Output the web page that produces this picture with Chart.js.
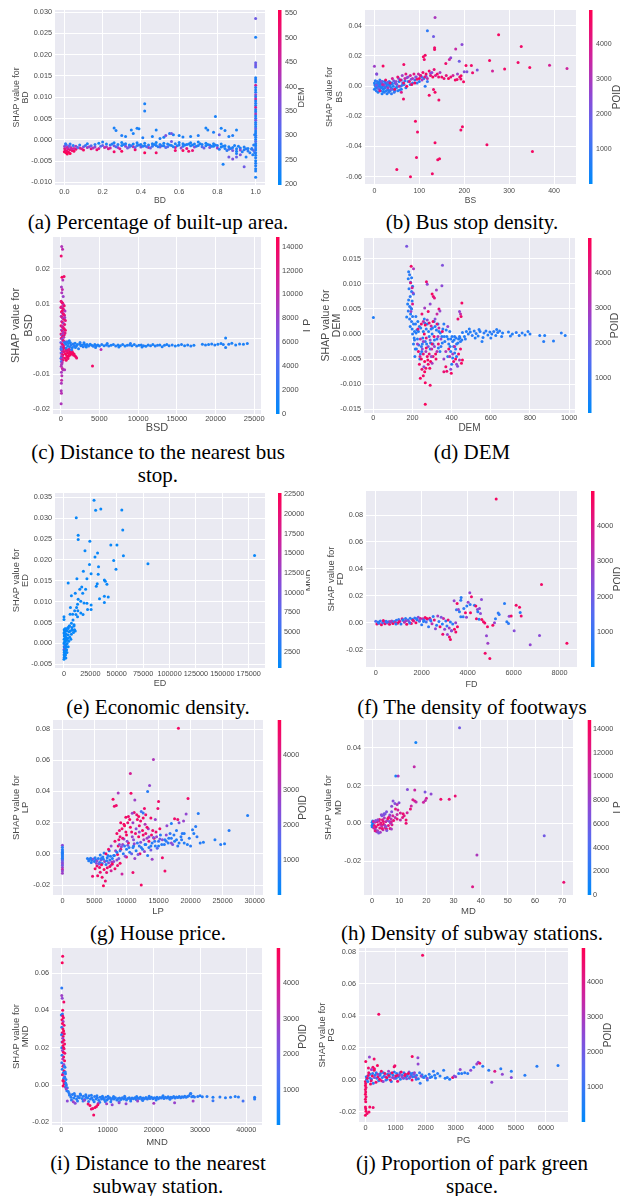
<!DOCTYPE html>
<html>
<head>
<meta charset="utf-8">
<script src="https://cdn.jsdelivr.net/npm/chart.js@4/dist/chart.umd.min.js"></script>
<style>
  body { margin: 0; width: 620px; height: 1196px; background: #fff; position: relative; overflow: hidden; }
  canvas { position: absolute; }
  .cap { position: absolute; font-family: "Liberation Serif", "Times New Roman", serif; font-size: 21px;
         line-height: 23px; color: #000; text-align: center; white-space: nowrap; }
</style>
</head>
<body>
<div class="cap" style="left:0;width:316px;top:211px">(a) Percentage of built-up area.</div>
<div class="cap" style="left:320px;width:304px;top:211px">(b) Bus stop density.</div>
<div class="cap" style="left:0;width:316px;top:441px">(c) Distance to the nearest bus<br>stop.</div>
<div class="cap" style="left:320px;width:304px;top:441px">(d) DEM</div>
<div class="cap" style="left:0;width:316px;top:696px">(e) Economic density.</div>
<div class="cap" style="left:320px;width:304px;top:696px">(f) The density of footways</div>
<div class="cap" style="left:0;width:316px;top:922px">(g) House price.</div>
<div class="cap" style="left:320px;width:304px;top:922px">(h) Density of subway stations.</div>
<div class="cap" style="left:0;width:316px;top:1152px">(i) Distance to the nearest<br>subway station.</div>
<div class="cap" style="left:320px;width:304px;top:1152px">(j) Proportion of park green<br>space.</div>
<script>
// ---------- SHAP dependence data: [feature value, SHAP value, colour feature value] ----------

// (a) BD, coloured by DEM
const bdPoints = [
  [0.000,-0.0028,545],[0.004,-0.0024,520],[0.008,-0.0030,550],[0.002,-0.0020,500],[0.012,-0.0026,530],[0.018,-0.0021,485],
  [0.022,-0.0029,545],[0.028,-0.0023,510],[0.001,-0.0015,380],[0.010,-0.0012,300],[0.020,-0.0016,360],[0.034,-0.0018,420],
  [0.040,-0.0025,520],[0.046,-0.0013,250],[0.050,-0.0027,540],[0.006,-0.0009,260],[0.030,-0.0010,240],[0.014,-0.0018,450],
  [0.026,-0.0014,330],[0.038,-0.0021,470],
  [0.06,-0.0015,400],[0.06,-0.0022,520],[0.08,-0.0012,240],[0.08,-0.0019,470],[0.10,-0.0016,350],[0.10,-0.0024,540],
  [0.12,-0.0009,230],[0.12,-0.0018,420],[0.14,-0.0014,300],[0.14,-0.0021,500],[0.16,-0.0011,250],[0.16,-0.0017,380],
  [0.18,-0.0008,220],[0.18,-0.0020,470],[0.20,-0.0013,330],[0.20,-0.0005,240],[0.22,-0.0016,410],[0.22,-0.0010,230],
  [0.24,-0.0012,260],[0.24,-0.0019,450],[0.26,-0.0014,360],[0.26,-0.0007,225],[0.28,-0.0011,240],[0.28,-0.0018,400],
  [0.30,-0.0013,230],[0.30,-0.0006,220],[0.32,-0.0015,380],[0.32,-0.0009,240],[0.34,-0.0012,230],[0.34,-0.0017,320],
  [0.36,-0.0010,220],[0.36,-0.0016,450],[0.38,-0.0013,250],[0.38,-0.0007,230],[0.40,-0.0011,230],[0.40,-0.0017,360],
  [0.42,-0.0014,240],[0.42,-0.0008,225],[0.44,-0.0012,235],[0.44,-0.0018,420],[0.46,-0.0009,230],[0.46,-0.0015,260],
  [0.48,-0.0013,240],[0.48,-0.0006,220],[0.50,-0.0011,230],[0.50,-0.0017,350],[0.52,-0.0014,240],[0.52,-0.0008,225],
  [0.54,-0.0010,230],[0.54,-0.0016,300],[0.56,-0.0013,235],[0.56,-0.0004,330],[0.58,-0.0009,230],[0.58,-0.0018,470],
  [0.60,-0.0012,240],[0.60,-0.0006,225],[0.62,-0.0015,250],[0.62,-0.0009,230],[0.64,-0.0011,230],[0.64,-0.0020,500],
  [0.66,-0.0014,240],[0.66,-0.0007,225],[0.68,-0.0010,230],[0.68,-0.0017,380],[0.70,-0.0013,240],[0.70,-0.0005,225],
  [0.72,-0.0011,230],[0.72,-0.0016,290],[0.74,-0.0014,235],[0.74,-0.0008,225],[0.76,-0.0012,240],[0.76,-0.0018,360],
  [0.78,-0.0015,230],[0.78,-0.0009,225],[0.80,-0.0013,240],[0.80,-0.0019,400],[0.82,-0.0017,230],[0.82,-0.0010,225],
  [0.84,-0.0020,240],[0.84,-0.0014,230],[0.86,-0.0022,300],[0.86,-0.0016,230],[0.88,-0.0018,235],[0.88,-0.0025,350],
  [0.90,-0.0021,240],[0.90,-0.0027,230],[0.92,-0.0019,230],[0.92,-0.0024,380],[0.94,-0.0023,240],[0.94,-0.0017,235],
  [0.96,-0.0020,230],[0.96,-0.0026,250],[0.98,-0.0022,240],
  [0.07,-0.0018,300],[0.11,-0.0013,260],[0.15,-0.0019,420],[0.19,-0.0015,300],[0.23,-0.0021,490],[0.27,-0.0016,280],
  [0.31,-0.0011,240],[0.35,-0.0014,260],[0.39,-0.0012,240],[0.43,-0.0016,300],[0.47,-0.0011,230],[0.51,-0.0014,250],
  [0.55,-0.0012,230],[0.59,-0.0014,240],[0.63,-0.0012,240],[0.67,-0.0012,230],[0.71,-0.0009,230],[0.75,-0.0011,230],
  [0.79,-0.0012,240],[0.83,-0.0015,230],[0.87,-0.0020,240],[0.91,-0.0015,230],[0.95,-0.0021,250],
  [0.09,-0.0021,480],[0.13,-0.0016,380],[0.17,-0.0023,520],[0.21,-0.0018,440],[0.25,-0.0010,240],[0.29,-0.0021,470],
  [0.33,-0.0019,350],[0.37,-0.0018,300],[0.41,-0.0015,240],[0.45,-0.0019,330],[0.49,-0.0016,250],[0.53,-0.0018,300],
  [0.57,-0.0016,240],[0.61,-0.0019,380],[0.65,-0.0010,230],[0.69,-0.0015,240],[0.73,-0.0019,330],[0.77,-0.0015,235],
  [0.81,-0.0022,240],[0.85,-0.0025,250],[0.89,-0.0013,230],[0.93,-0.0028,240],[0.97,-0.0030,245],[0.03,-0.0032,550],
  [0.05,-0.0020,460],[0.015,-0.0033,550],
  [0.26,0.0028,230],[0.27,0.0022,235],[0.30,0.0010,240],[0.32,0.0008,230],[0.35,0.0023,225],[0.36,0.0015,230],
  [0.38,0.0027,235],[0.39,0.0026,225],[0.42,0.0085,230],[0.42,0.0068,235],[0.41,0.0005,240],[0.46,0.0008,230],
  [0.48,0.0023,225],[0.50,0.0003,235],[0.52,0.0006,230],[0.55,0.0015,240],[0.57,0.0012,230],[0.60,0.0010,225],
  [0.62,0.0007,235],[0.66,0.0008,230],[0.70,0.0010,240],[0.74,0.0028,225],[0.75,0.0023,230],[0.78,0.0018,235],
  [0.79,0.0055,230],[0.82,0.0027,225],[0.84,0.0022,235],[0.86,0.0008,230],[0.88,0.0010,240],[0.90,0.0023,225],
  [0.56,0.0015,340],[0.53,0.0010,360],[0.81,0.0012,330],
  [0.26,-0.0028,530],[0.30,-0.0027,540],[0.37,-0.0023,520],[0.42,-0.0030,545],[0.48,-0.0030,530],[0.58,-0.0025,520],
  [0.62,-0.0025,540],[0.65,-0.0027,530],[0.67,-0.0025,510],[0.83,-0.0057,230],[0.86,-0.0040,340],[0.88,-0.0045,360],
  [0.90,-0.0040,330],[0.92,-0.0035,350],[0.94,-0.0063,340],[0.95,-0.0040,235],[0.90,-0.0032,240],
  [1.0,0.0285,340],[1.0,0.0241,230],[1.0,0.0181,330],[1.0,0.0176,350],[1.0,0.0171,320],[1.0,0.0146,230],
  [1.0,0.0141,240],[1.0,0.0136,235],[1.0,0.0128,470],[1.0,0.0123,250],[1.0,0.0117,230],[1.0,0.0112,240],
  [1.0,0.0106,380],[1.0,0.0101,230],[1.0,0.0096,460],[1.0,0.0091,230],[1.0,0.0086,245],[1.0,0.0081,230],
  [1.0,0.0076,480],[1.0,0.0071,235],[1.0,0.0066,240],[1.0,0.0061,420],[1.0,0.0056,230],[1.0,0.0051,250],
  [1.0,0.0046,360],[1.0,0.0041,230],[1.0,0.0036,240],[1.0,0.0031,230],[1.0,0.0026,330],[1.0,0.0021,235],
  [1.0,0.0016,230],[1.0,0.0011,250],[1.0,0.0006,240],[1.0,0.0001,230],[1.0,-0.0004,300],[1.0,-0.0009,235],
  [1.0,-0.0014,230],[1.0,-0.0019,260],[1.0,-0.0024,230],[1.0,-0.0030,245],[1.0,-0.0036,230],[1.0,-0.0042,240],
  [1.0,-0.0049,230],[1.0,-0.0055,235],[1.0,-0.0061,240],[1.0,-0.0068,230],[1.0,-0.0073,235],[1.0,-0.0088,230],
  [0.995,-0.0030,240],[0.99,-0.0025,300],[0.985,-0.0035,235],[0.99,-0.0012,240],[0.995,0.0012,235],[0.98,-0.0020,250]
];
const bdXTicks = [0, 0.2, 0.4, 0.6, 0.8, 1.0];
const bdYTicks = [-0.010, -0.005, 0, 0.005, 0.010, 0.015, 0.020, 0.025, 0.030];
const demColorTicks = [200, 250, 300, 350, 400, 450, 500, 550];

// (b) BS, coloured by POID
const bsPoints = [
  [0,0.0020,600],[0,-0.0020,500],[2,0.0035,700],[3,0.0000,400],[4,-0.0030,800],[5,0.0010,500],[6,0.0030,900],
  [7,-0.0010,600],[8,-0.0040,500],[9,0.0020,700],[10,0.0000,400],[11,-0.0020,800],[12,0.0040,600],[13,0.0010,500],
  [14,-0.0030,900],[15,0.0020,600],[16,-0.0010,700],[17,-0.0050,500],[18,0.0030,800],[19,0.0000,600],[20,-0.0020,400],
  [21,0.0010,700],[22,-0.0040,900],[23,0.0030,500],[24,-0.0010,600],[25,0.0020,800],[26,-0.0030,700],[27,0.0000,500],
  [28,-0.0050,600],[29,0.0020,900],[30,-0.0020,700],[31,0.0010,500],[32,-0.0040,800],[33,0.0030,600],[34,0.0000,700],
  [35,-0.0030,500],[36,0.0010,900],[37,-0.0010,600],[38,-0.0050,800],[39,0.0020,700],[40,-0.0020,500],[42,0.0000,600],
  [44,-0.0040,900],[46,0.0020,700],[48,-0.0010,500],[50,0.0010,800],[52,-0.0030,600],[55,0.0030,700],[58,0.0000,900],
  [60,-0.0020,600],[63,0.0020,700],[66,0.0010,800],[70,-0.0010,500],[75,0.0030,900],[80,0.0010,700],[85,0.0020,600],
  [90,0.0040,800],[95,0.0020,900],[100,0.0030,700],[105,0.0060,800],[110,0.0050,600],[118,0.0030,900],[113,-0.0001,700],
  [1,0.0008,500],[3,-0.0012,600],[6,0.0015,700],[8,0.0005,800],[11,0.0025,500],[14,-0.0008,600],[17,0.0012,700],
  [20,-0.0035,500],[23,-0.0005,800],[27,0.0015,600],[31,-0.0028,700],[35,0.0022,600],[40,0.0015,700],[45,-0.0030,800],
  [50,-0.0008,700],[56,-0.0025,600],[62,0.0006,900],[68,0.0035,800],
  [4,0.0005,2000],[9,-0.0015,1800],[15,0.0030,2200],[22,0.0008,2500],[30,0.0025,1900],[37,-0.0020,2300],[43,0.0035,2000],
  [48,0.0015,2600],[54,0.0050,2100],[60,0.0040,1800],[72,0.0055,2400],[82,0.0045,2200],[92,0.0060,2000],[102,0.0070,2500],
  [115,0.0065,1900],[125,0.0085,2300],[0,0.0132,2800],[5,0.0080,2600],
  [12,-0.0030,4000],[18,0.0010,3500],[25,0.0040,4500],[30,-0.0010,3000],[35,0.0020,4200],[40,0.0050,3800],[45,-0.0020,4600],
  [48,0.0030,2500],[52,0.0060,4400],[55,0.0000,3200],[58,0.0040,4700],[60,-0.0040,4000],[62,0.0070,2800],[65,0.0020,4500],
  [68,0.0050,3500],[70,0.0080,4200],[72,0.0000,4800],[75,0.0060,2600],[78,0.0030,4400],[80,0.0070,3800],[83,0.0010,4600],
  [85,0.0050,3000],[88,0.0080,4200],[90,0.0020,4700],[93,0.0060,2400],[95,0.0045,4500],[98,0.0080,3600],[100,0.0050,4800],
  [103,0.0070,4300],[106,0.0040,2800],[108,0.0090,4500],[112,0.0060,4100],[115,0.0080,4700],[118,0.0050,3300],
  [122,0.0100,4600],[125,0.0070,4200],[128,0.0090,2500],[130,0.0060,4800],[133,0.0110,4400],[136,0.0070,3900],
  [140,0.0080,4700],[143,0.0060,4500],[146,0.0090,3000],[150,0.0060,4600],[155,0.0050,4400],[160,0.0070,4200],
  [165,0.0050,4800],[170,0.0060,4500],[175,0.0070,3800],[180,0.0040,4600],[185,0.0080,2800],[190,0.0060,4700],
  [135,0.0455,3000],[118,0.0367,800],[131.6,0.0329,2000],[134,0.0254,4500],[134,0.0243,4600],[276.6,0.0340,4700],
  [327,0.0263,4600],[195,0.0276,2500],[181,0.0245,3500],[170,0.0188,2500],[167,0.0177,3600],[159,0.0150,4500],
  [189,0.0164,2000],[113,0.0204,4600],[109,0.0195,4700],[111,0.0177,4500],[256.5,0.0170,4700],[320,0.0157,4600],
  [346,0.0124,4700],[390,0.0139,3800],[429,0.0117,3600],[290,0.0113,4600],[263,0.0100,3700],[229,0.0107,2200],
  [216,0.0137,4600],[204,0.0137,4700],[200,0.0095,2400],[206,0.0095,2300],[218.6,0.0089,4500],[193,0.0069,4700],
  [184,0.0044,4600],[198.5,0.0029,4700],[192.6,0.0047,4500],[65.4,0.0144,4600],[19.3,0.0133,4700],[5.2,0.0080,2300],
  [64.7,-0.0086,4600],[122,-0.0060,4700],[131.6,-0.0022,4500],[135,-0.0040,4700],[143.5,-0.0092,4600],
  [91.4,-0.0232,4700],[96,-0.0304,4600],[135,-0.0375,4700],[192.6,-0.0291,4600],[196,-0.0269,4700],
  [250.6,-0.0388,4600],[352,-0.0432,4700],[93.7,-0.0472,4600],[145,-0.0481,4700],[141,-0.0488,4600],
  [49.8,-0.0552,4700],[129,-0.0580,4600],[80.3,-0.0600,4700]
];
const bsXTicks = [0, 100, 200, 300, 400];
const bsYTicks = [-0.06, -0.04, -0.02, 0, 0.02, 0.04];
const poidColorTicks = [1000, 2000, 3000, 4000];

// (c) BSD, coloured by LP
const bsdPoints = [
  [120,0.0264,9200],[230,0.0256,9800],[60,0.0237,13200],[160,0.0176,14200],[430,0.0178,13600],[270,0.0168,9000],
  [90,0.0148,8600],[200,0.0141,10200],[130,0.0132,9100],[320,0.0121,8200],
  [50,0.0108,13000],[150,0.0105,12500],[250,0.0102,14000],[350,0.0098,9500],[450,0.0095,13500],[80,0.0092,12800],
  [200,0.0089,9000],[300,0.0086,13800],[400,0.0083,12000],[550,0.0080,8800],[100,0.0077,13600],[220,0.0074,9600],
  [330,0.0071,14100],[480,0.0068,12300],[60,0.0065,9200],[180,0.0062,13000],[280,0.0059,8700],[420,0.0056,13400],
  [600,0.0053,12600],[120,0.0050,9800],[240,0.0047,13900],[360,0.0044,7600],[500,0.0041,12900],[40,0.0038,13300],
  [160,0.0035,9100],[300,0.0032,12700],[440,0.0029,13600],[90,0.0026,8000],[210,0.0023,13100],[340,0.0020,9400],
  [560,0.0017,12400],[30,0.0014,12800],[140,0.0011,6500],[260,0.0008,13700],[390,0.0005,9300],[70,0.0002,12500],
  [190,-0.0001,7000],[320,-0.0004,13200],[470,-0.0007,10000],[20,-0.0010,5500],[120,-0.0013,9600],[230,-0.0016,13800],
  [360,-0.0019,12200],[60,-0.0022,6200],[170,-0.0025,9900],[290,-0.0028,13400],[80,-0.0031,4800],[200,-0.0034,12700],
  [330,-0.0037,9200],[40,-0.0040,5200],[150,-0.0043,10500],[270,-0.0046,13600],[100,-0.0049,8500],[220,-0.0052,12000],
  [30,-0.0055,3500],[130,-0.0058,9400],[250,-0.0061,12600],[70,-0.0064,4200],[180,-0.0068,9700],[110,-0.0072,8900],
  [60,-0.0078,9300],[200,-0.0084,10800],[300,-0.0088,9800],[500,-0.0088,9200],[90,-0.0095,8800],[140,-0.0105,9500],
  [110,-0.0118,10200],[80,-0.0126,9000],[60,-0.0148,9100],[90,-0.0155,9600],[50,-0.0185,9000],
  [380,0.0070,13000],[520,0.0061,9000],[270,0.0035,12000],[600,0.0025,13200],[450,0.0012,12900],[580,-0.0010,13500],
  [410,-0.0025,12800],[20,0.0090,12000],[170,0.0080,13800],[280,0.0015,9500],[110,-0.0030,7000],[30,-0.0028,3000],
  [420,-0.0036,13000],[520,-0.0055,13800],[600,-0.0042,14200],[660,-0.0030,13500],[700,-0.0061,13900],[760,-0.0047,14000],
  [820,-0.0052,13600],[880,-0.0039,14100],[930,-0.0056,13200],[1000,-0.0049,14300],[1080,-0.0043,13700],[1150,-0.0036,14000],
  [1220,-0.0046,13400],[1300,-0.0038,13900],[1380,-0.0042,14200],[1460,-0.0035,13000],[1550,-0.0040,13800],
  [1640,-0.0046,13500],[1720,-0.0043,14100],[1820,-0.0048,13600],[1950,-0.0051,13900],[2050,-0.0054,13300],
  [750,-0.0035,12500],[950,-0.0031,13000],[1100,-0.0029,12000],[4100,-0.0077,13800],[5200,-0.0030,9500],
  [500,-0.0010,2000],[650,-0.0015,1500],[800,-0.0008,2500],[900,-0.0020,1800],[1000,-0.0013,1200],[1150,-0.0022,2200],
  [1250,-0.0011,1600],[1350,-0.0017,2000],[1500,-0.0024,1400],[1600,-0.0014,1900],[1750,-0.0019,2300],[1850,-0.0012,1500],
  [2000,-0.0021,1700],[2150,-0.0016,1300],[2300,-0.0028,1800],[2450,-0.0014,2000],[2600,-0.0019,1600],[2750,-0.0017,1400],
  [2900,-0.0022,1900],[3050,-0.0015,1500],[3200,-0.0019,1700],[3400,-0.0016,1300],[3600,-0.0020,1800],[3800,-0.0015,1600],
  [4000,-0.0018,1400],[4200,-0.0021,1900],[4400,-0.0016,1500],[4600,-0.0019,1700],[4800,-0.0017,1300],[5000,-0.0020,1600],
  [5300,-0.0016,1800],[5600,-0.0019,1400],[5900,-0.0017,1500],[6200,-0.0020,1700],[6500,-0.0018,1300],[6800,-0.0016,1600],
  [7100,-0.0020,1800],[7400,-0.0017,1400],[7700,-0.0019,1500],[8000,-0.0016,1700],[8300,-0.0020,1300],[8600,-0.0018,1600],
  [8900,-0.0017,1800],[9200,-0.0019,1400],[9500,-0.0016,1500],[9800,-0.0020,1700],[10100,-0.0018,1300],[10400,-0.0017,1600],
  [10700,-0.0019,1800],[11000,-0.0021,1400],[11300,-0.0017,1500],[11600,-0.0019,1700],[11900,-0.0016,1300],
  [12200,-0.0020,1600],[12500,-0.0018,1800],[12800,-0.0017,1400],[13100,-0.0022,1500],[13400,-0.0018,1700],
  [13700,-0.0016,1300],[14000,-0.0019,1600],[14400,-0.0017,1800],[14800,-0.0020,1400],[15200,-0.0018,1500],
  [15600,-0.0016,1700],[16000,-0.0019,1300],[16400,-0.0017,1600],[16800,-0.0020,1800],[17200,-0.0018,1400],
  [18300,-0.0015,1500],[18700,-0.0017,1700],[19100,-0.0016,1300],[19500,-0.0014,1600],[19900,-0.0017,1800],
  [20300,-0.0015,1400],[20700,-0.0013,1500],[21000,-0.0016,1700],[21300,0.0003,1300],[21300,-0.0024,1600],
  [21700,-0.0015,1800],[22100,-0.0012,1400],[22600,-0.0017,1500],[23100,-0.0014,1700],[23600,-0.0015,1300],[24100,-0.0013,1600],
  [1100,-0.0005,1500],[1900,-0.0024,1600],[2500,-0.0010,1800],[3300,-0.0023,1400],[700,-0.0026,1600],[1400,-0.0030,1900],
  [3000,-0.0011,1500],[4500,-0.0024,1700],[6000,-0.0013,1600],[7500,-0.0023,1400],[9000,-0.0013,1800],[10500,-0.0023,1500]
];
const bsdXTicks = [0, 5000, 10000, 15000, 20000, 25000];
const bsdYTicks = [-0.02, -0.01, 0, 0.01, 0.02];
const lpColorTicks = [0, 2000, 4000, 6000, 8000, 10000, 12000, 14000];

// (d) DEM, coloured by POID
const demPoints = [
  [0,0.0033,600],[170,0.0175,2200],
  [180,0.0124,700],[185,0.0118,800],[178,0.0110,600],[195,0.0112,700],[190,0.0103,800],[200,0.0095,650],[182,0.0090,750],
  [195,0.0085,700],[205,0.0080,600],[188,0.0075,800],[180,0.0068,700],[198,0.0066,650],[175,0.0060,600],[185,0.0055,750],
  [195,0.0050,700],[178,0.0046,800],[190,0.0040,650],[200,0.0035,700],[170,0.0034,600],[185,0.0030,750],[195,0.0025,800],
  [205,0.0020,700],[188,0.0015,650],[198,0.0010,600],[210,0.0005,700],[200,0.0000,750],[192,0.0052,900],
  [193,0.0135,4600],[205,0.0130,3000],[190,0.0102,4200],[198,0.0092,3800],[203,0.0082,2500],[200,0.0060,4000],[192,0.0045,2800],
  [215,0.0020,700],[225,-0.0010,650],[235,0.0015,800],[245,-0.0025,700],[255,0.0005,600],[265,-0.0015,750],[275,0.0020,700],
  [285,-0.0005,800],[295,0.0010,650],[305,-0.0020,700],[315,0.0015,600],[325,-0.0010,750],[335,0.0005,700],[345,-0.0025,800],
  [355,0.0010,650],[365,-0.0015,700],[375,-0.0005,600],[385,-0.0020,750],[395,-0.0010,700],[405,-0.0015,800],[415,-0.0005,650],
  [425,-0.0020,700],[435,-0.0010,600],[445,-0.0015,750],[220,-0.0030,700],[240,-0.0040,800],[260,0.0030,650],[290,-0.0030,700],
  [310,0.0025,600],[340,-0.0035,750],[360,0.0020,700],[380,-0.0045,800],[400,-0.0060,700],[420,-0.0030,650],[230,0.0005,600],
  [250,-0.0020,750],[270,0.0010,800],[300,0.0000,650],[330,0.0020,700],[350,-0.0005,600],[390,0.0005,750],[410,-0.0025,700],
  [440,-0.0005,800],[205,-0.0020,650],[212,-0.0045,700],[218,0.0002,600],[208,-0.0008,700],[214,-0.0030,650],
  [210,-0.0012,700],[222,0.0008,650],[232,-0.0022,800],[242,0.0012,700],[252,-0.0008,600],[262,0.0022,750],[272,-0.0020,700],
  [282,0.0005,650],[292,-0.0018,600],[302,0.0012,700],[312,-0.0012,750],[322,0.0008,650],[332,-0.0028,700],[342,0.0002,800],
  [352,-0.0018,650],[362,-0.0005,700],[372,0.0008,600],[382,-0.0010,700],[392,-0.0025,650],[402,-0.0005,700],[412,-0.0012,600],
  [422,-0.0008,750],[432,-0.0018,700],[442,-0.0008,650],[452,-0.0012,700],[217,0.0035,700],[227,0.0025,600],[237,-0.0050,700],
  [247,-0.0035,650],[395,-0.0035,700],[405,-0.0048,600],[415,-0.0038,700],[425,-0.0045,650],
  [230,-0.0035,4500],[238,-0.0045,3800],[245,-0.0050,4700],[250,-0.0030,2500],[255,-0.0040,4300],[262,-0.0055,4800],
  [268,-0.0035,3000],[275,-0.0045,4600],[280,-0.0025,2200],[285,-0.0040,4400],[292,-0.0055,4900],[298,-0.0030,3600],
  [305,-0.0045,4500],[312,-0.0025,2800],[318,-0.0040,4700],[325,-0.0035,3200],[332,-0.0020,4400],[245,0.0020,4600],
  [255,0.0025,3500],[265,0.0018,4800],[275,0.0028,2600],[285,0.0022,4500],[295,0.0016,3800],[305,0.0025,4700],
  [315,0.0030,2400],[325,0.0020,4400],[335,0.0012,3600],[255,-0.0015,2700],[270,-0.0008,4200],[290,-0.0012,2300],
  [310,-0.0005,4600],[240,-0.0010,3400],[225,-0.0020,2900],[228,0.0010,4300],[345,-0.0010,2600],[352,0.0005,4500],
  [235,-0.0060,4600],[248,-0.0070,4500],[278,-0.0052,4700],[288,-0.0068,4600],[296,-0.0045,2600],[320,-0.0050,4600],
  [260,0.0000,4700],[300,-0.0020,4500],[330,-0.0005,3000],[270,-0.0028,4600],
  [240,-0.0088,4700],[255,-0.0083,4600],[262,-0.0075,4800],[268,-0.0068,4500],[265,-0.0097,4700],[290,-0.0102,4600],
  [265,-0.0140,4800],[280,-0.0060,4500],[300,-0.0058,3000],[258,-0.0065,2500],
  [271,0.0104,4500],[275,0.0099,2600],[300,0.0080,4700],[306,0.0075,4500],[312,0.0072,4200],[322,0.0088,2800],
  [350,0.0096,2500],[353,0.0137,2300],[290,0.0060,2600],[335,0.0050,4400],[340,0.0046,2700],[325,0.0040,3500],
  [280,0.0045,4600],[262,0.0052,2900],[248,0.0040,4400],
  [385,-0.0030,4600],[390,-0.0045,3200],[395,-0.0070,2500],[398,-0.0078,4700],[405,-0.0040,2800],[410,-0.0055,4500],
  [415,-0.0025,3300],[420,-0.0050,4800],[425,-0.0060,2600],[430,-0.0064,2400],[435,-0.0040,4600],[440,-0.0052,3000],
  [445,-0.0030,4500],[450,-0.0058,4700],[455,-0.0052,4800],[432,0.0030,4500],[440,0.0045,2600],[445,0.0040,3400],
  [452,0.0062,4700],[448,0.0035,4600],[360,-0.0050,2700],[370,-0.0065,4600],[375,-0.0074,4500],[360,-0.0075,4400],
  [370,-0.0035,3000],[380,0.0015,2700],
  [455,0.0003,700],[465,-0.0005,600],[475,0.0005,650],[485,0.0000,700],[495,0.0004,600],[505,-0.0003,750],[515,0.0006,700],
  [525,0.0001,650],[535,-0.0004,600],[545,0.0005,700],[555,-0.0015,650],[565,0.0002,750],[575,0.0006,700],[585,-0.0002,600],
  [595,0.0004,650],[605,0.0000,700],[615,0.0005,750],[625,-0.0003,600],[635,0.0003,700],[645,0.0006,650],[655,-0.0005,700],
  [660,0.0002,600],[690,0.0004,650],[700,-0.0004,700],[710,0.0000,600],[730,0.0003,750],[745,-0.0003,650],[760,0.0002,700],
  [775,-0.0002,600],[790,0.0005,650],[800,0.0000,700],[850,-0.0003,650],[870,-0.0015,700],[875,-0.0003,600],
  [920,-0.0014,650],[960,0.0002,700],[980,-0.0003,600],[470,-0.0010,700],[490,0.0010,650],[520,-0.0008,600],
  [540,0.0009,700],[560,-0.0007,650],[600,-0.0008,700],[630,0.0009,650]
];
const demXTicks = [0, 200, 400, 600, 800, 1000];
const demYTicks = [-0.015, -0.010, -0.005, 0, 0.005, 0.010, 0.015];

// (e) ED, coloured by MND
const edPoints = [
  [0,-0.0038,900],[200,-0.0034,1200],[500,-0.0030,1000],[100,-0.0027,800],[800,-0.0024,1100],[300,-0.0021,900],
  [1200,-0.0018,1300],[0,-0.0015,1000],[600,-0.0012,11000],[1500,-0.0010,1200],[200,-0.0008,900],[900,-0.0005,9000],
  [2000,-0.0003,1100],[0,0.0000,1000],[400,0.0003,1200],[1300,0.0005,800],[2500,0.0008,1100],[100,0.0010,900],
  [700,0.0012,1300],[1800,0.0015,1000],[300,0.0018,1200],[1100,0.0020,900],[2200,0.0022,1100],[0,0.0025,1000],
  [600,0.0028,800],[1600,0.0030,1200],[200,0.0033,1100],[900,0.0035,900],
  [1500,-0.0028,1000],[2500,-0.0015,1100],[3000,0.0000,1200],[3500,0.0012,900],[4000,0.0020,1000],[4500,0.0005,1100],
  [5000,0.0028,1200],[5500,0.0015,900],[6000,0.0030,1000],[7000,0.0022,1100],[8000,0.0032,1200],[9000,0.0026,900],
  [10000,0.0033,1000],[3000,0.0030,1100],[4000,-0.0008,1000],[6500,0.0010,1100],[2000,0.0035,1200],[1000,-0.0020,800],
  [1800,-0.0035,1000],[2800,-0.0022,900],[3800,0.0038,1100],[5000,0.0042,1000],[7500,0.0038,1200],[9500,0.0045,900],
  [400,-0.0018,1000],[1000,0.0008,900],[1600,-0.0006,1100],[2300,0.0012,1000],[700,0.0022,1200],
  [28450,0.0343,1000],[34880,0.0322,1100],[30000,0.0319,900],[54760,0.0320,1000],[55680,0.0272,1200],[11630,0.0301,1000],
  [13460,0.0259,900],[13460,0.0249,1100],[24480,0.0245,1000],[44360,0.0236,1200],[50170,0.0236,900],[56290,0.0210,1000],
  [180500,0.0211,1100],[79540,0.0191,1000],[47110,0.0199,900],[49260,0.0178,1200],[19890,0.0222,1000],[31820,0.0217,1100],
  [29370,0.0207,900],[24170,0.0189,1000],[32730,0.0184,1200],[18360,0.0173,1000],[25700,0.0167,900],[32430,0.0166,1100],
  [21720,0.0155,1000],[12240,0.0155,1200],[38240,0.0152,900],[39160,0.0149,1000],[40690,0.0142,1100],[3980,0.0145,1000],
  [31510,0.0143,900],[30600,0.0137,1200],[16830,0.0135,1000],[14990,0.0130,1100],[20500,0.0130,900],[17740,0.0120,1000],
  [10700,0.0120,1200],[7040,0.0114,1000],[33650,0.0107,900],[38240,0.0113,1100],[41910,0.0111,1000],[38240,0.0098,1200],
  [13460,0.0106,900],[15910,0.0101,1000],[18970,0.0097,1100],[21720,0.0096,1000],[25700,0.0092,900],[25700,0.0081,1200],
  [22330,0.0081,1000],[18050,0.0069,1100],[12850,0.0094,900],[11930,0.0086,1000],[10100,0.0078,1200],[8260,0.0070,1000],
  [5810,0.0070,900],[11320,0.0069,1100],[12850,0.0064,1000],[8570,0.0056,1200],[7040,0.0048,900],[9480,0.0042,1000],
  [5200,0.0042,1100],[0,0.0064,1000],[0,0.0057,900],[4000,0.0036,1200],[10700,0.0030,1000],[7650,0.0033,1100],
  [15900,0.0073,900],[13150,0.0078,1000],[6120,0.0086,1100]
];
const edXTicks = [0, 25000, 50000, 75000, 100000, 125000, 150000, 175000];
const edYTicks = [-0.005, 0, 0.005, 0.010, 0.015, 0.020, 0.025, 0.030, 0.035];
const mndColorTicks = [2500, 5000, 7500, 10000, 12500, 15000, 17500, 20000, 22500];

// (f) FD, coloured by POID
const fdPoints = [
  [0,0.0010,1500],[50,-0.0010,4500],[100,0.0005,800],[150,-0.0005,3000],[200,0.0012,600],[250,-0.0015,4700],[300,0.0000,1200],
  [350,0.0008,2500],[400,-0.0008,4400],[450,0.0010,700],[500,-0.0003,3800],[550,0.0006,900],[600,-0.0012,4600],[650,0.0003,1400],
  [700,0.0012,2800],[750,-0.0006,4800],[800,0.0008,600],[850,0.0002,3500],[900,0.0018,800],[950,-0.0004,4500],[1000,0.0024,1000],
  [1050,0.0010,2700],[1100,-0.0010,700],[1150,0.0028,4200],[1200,0.0015,900],[1250,0.0002,3200],[1300,0.0030,700],
  [1350,-0.0012,4600],[1400,0.0020,1100],[1450,0.0008,2300],[1500,0.0032,800],[1550,-0.0006,4400],[1600,0.0025,600],
  [1650,0.0012,3600],[1700,0.0035,900],[1750,0.0000,4700],[1800,0.0022,700],[1850,0.0040,2600],[1900,0.0010,1000],
  [1950,0.0030,4300],[2000,-0.0015,800],[2050,0.0028,3000],[2100,0.0018,600],[2150,0.0038,4500],[2200,0.0005,1200],
  [2250,0.0025,2400],[2300,-0.0030,900],[2350,0.0032,4600],[2400,0.0012,700],[2450,-0.0008,3400],[2500,0.0045,800],
  [2550,0.0020,4400],[2600,-0.0045,2500],[2650,-0.0020,700],[2700,0.0050,3000],[2750,0.0008,900],[2800,-0.0030,4700],
  [2850,0.0040,2200],[2900,-0.0010,600],[2950,0.0030,3500],[3000,-0.0050,2600],[3050,0.0012,800],[3100,-0.0025,900],
  [3150,0.0020,4500],[3200,-0.0040,2800],[3250,0.0005,700],[3300,-0.0060,1000],
  [120,-0.0002,600],[330,0.0015,4600],[480,0.0002,1000],[620,0.0009,3100],[880,-0.0010,700],[1020,0.0006,4600],
  [1180,0.0022,600],[1320,0.0014,2900],[1480,-0.0002,800],[1620,0.0018,4500],[1780,0.0028,900],[1920,0.0020,2500],
  [2080,0.0008,700],[2220,0.0030,4800],[2380,0.0022,1000],
  [5242,0.0919,4700],[7216,0.0284,4600],[8320,-0.0153,4700],[6723,-0.0165,2600],[7129,-0.0096,2500],[6026,-0.0061,2400],
  [4966,-0.0267,4700],[4763,-0.0227,4600],[4879,-0.0153,2800],[4821,-0.0098,2600],[4864,-0.0031,4700],[4748,-0.0002,4600],
  [4095,0.0222,2600],[4167,0.0192,4600],[4603,0.0172,2500],[3717,0.0187,700],[3703,0.0167,800],[3412,0.0162,2600],
  [3543,0.0142,4600],[4298,0.0130,700],[4356,0.0123,4600],[4110,0.0135,800],[3964,0.0123,700],[4022,0.0152,2700],
  [3514,0.0095,800],[3600,0.0098,2600],[3645,0.0080,700],[3833,0.0105,800],[4429,0.0098,2500],[4443,0.0080,700],
  [4516,0.0105,2600],[4560,0.0068,2500],[3906,0.0073,4600],[4124,0.0073,4700],[3703,0.0043,700],[3804,0.0043,800],
  [4385,0.0028,4600],[4501,0.0026,700],[4617,0.0023,4700],[4690,0.0006,4600],[3427,-0.0049,4700],[3485,-0.0069,4600],
  [3557,-0.0031,4700],[3122,-0.0088,2600],[3209,-0.0106,4700],[3253,-0.0126,4600],[2919,-0.0086,4500],[3296,-0.0061,2600],
  [5605,0.0142,700],[5329,0.0071,800],[5213,0.0028,700],[5373,0.0060,800],[5808,0.0048,2600],[5895,0.0050,4600],
  [5706,0.0006,700],[5779,-0.0006,800],[6113,0.0130,4600],[6258,0.0115,4700],[6287,0.0075,700],[6331,0.0050,4600],
  [5169,-0.0001,2600],[5097,-0.0019,4600],[3950,0.0040,2600],[3350,-0.0010,700],[3480,0.0000,2700]
];
const fdXTicks = [0, 2000, 4000, 6000, 8000];
const fdYTicks = [-0.02, 0, 0.02, 0.04, 0.06, 0.08];

// (g) LP, coloured by POID
const lpPoints = [
  [0,0.0055,2500],[0,0.0042,800],[0,0.0028,600],[0,0.0018,700],[0,0.0010,650],[0,0.0003,600],[0,-0.0004,700],
  [0,-0.0012,650],[0,-0.0020,600],[0,-0.0028,700],[0,-0.0036,650],[0,-0.0045,1800],[0,-0.0055,2200],[0,-0.0066,2600],
  [0,-0.0075,2000],[0,-0.0088,2700],[0,-0.0100,3500],[0,-0.0110,2600],[0,-0.0125,2800],
  [3900,-0.0030,600],[4200,-0.0035,700],[4400,-0.0028,650],[4600,-0.0042,600],[4800,-0.0033,2200],[5000,-0.0050,700],
  [5200,-0.0038,600],[5400,-0.0045,2500],[5600,-0.0030,650],[5800,-0.0055,700],[6000,-0.0040,2000],[6200,-0.0062,600],
  [6400,-0.0035,700],[6600,-0.0050,2800],[6800,-0.0068,650],[7000,-0.0025,600],[7200,-0.0058,2400],[7400,-0.0040,700],
  [7600,-0.0072,3000],[7800,-0.0030,650],[8000,-0.0050,2600],[4500,-0.0055,600],[5100,-0.0025,700],[5700,-0.0065,2100],
  [6300,-0.0020,650],[6900,-0.0045,700],[7500,-0.0015,600],[4100,-0.0045,650],[5300,-0.0060,2300],[6100,-0.0028,700],
  [7100,-0.0010,650],[7700,-0.0052,2900],[8100,-0.0010,600],[6500,0.0005,700],[7300,0.0020,650],[5900,-0.0008,600],
  [4700,-0.0143,4500],[5500,-0.0140,4700],[6200,-0.0150,4600],[6400,-0.0205,4800],[6700,-0.0175,4500],[5900,-0.0118,4400],
  [5100,-0.0095,4700],[5800,-0.0088,4600],[6500,-0.0100,4800],[7000,-0.0090,4500],[7400,-0.0082,4700],[6900,-0.0120,4400],
  [7600,-0.0108,3800],[8200,-0.0095,4600],[8600,-0.0075,4500],[9300,-0.0130,3600],[6100,-0.0070,4700],[5400,-0.0078,4500],
  [7800,-0.0065,4800],
  [8100,0.0305,4600],[8400,0.0310,4500],[7900,0.0350,4700],[8700,0.0390,3000],[10600,0.0515,3800],[10700,0.0388,4600],
  [11300,0.0345,2800],[11600,0.0250,4500],[11900,0.0240,4700],[11200,0.0265,4400],[12300,0.0272,1200],[12600,0.0262,900],
  [12800,0.0290,4600],[13300,0.0400,700],[13600,0.0438,2600],[14200,0.0605,3100],[15000,0.0335,4600],[14900,0.0290,4500],
  [13800,0.0230,4700],[14500,0.0220,2700],[10500,0.0220,4700],[10200,0.0200,4500],[9700,0.0180,4800],[9300,0.0160,4600],
  [8900,0.0150,4400],[8500,0.0130,4700],[9000,0.0110,4500],[9600,0.0095,2600],[10000,0.0120,4800],[10800,0.0140,4600],
  [11500,0.0160,2500],[12000,0.0180,4500],[12500,0.0150,4700],[13000,0.0130,4400],[13400,0.0160,3000],[13900,0.0120,4600],
  [14300,0.0100,4800],[9100,0.0200,4600],[9900,0.0235,4700],[11000,0.0200,2800],[12200,0.0210,4500],[10900,0.0260,2700],
  [12900,0.0190,3200],[8200,0.0080,4500],[8700,0.0050,4600],[9400,0.0060,2700],[10300,0.0070,4500],[11100,0.0090,2500],
  [11900,0.0110,4700],[12700,0.0090,2900],[13500,0.0080,4400],[14600,0.0140,4500],[15200,0.0160,4700],
  [8300,0.0020,2600],[8600,-0.0005,4600],[8900,0.0060,2200],[9100,0.0030,4700],[9400,0.0100,4500],[9700,0.0050,800],
  [9900,0.0140,4600],[10100,0.0080,2400],[10400,0.0040,700],[10600,0.0170,4700],[10900,0.0110,2700],[11100,0.0050,600],
  [11400,0.0130,4500],[11700,0.0070,800],[12000,0.0140,2600],[12300,0.0040,700],[12600,0.0120,4600],[12900,0.0060,600],
  [13200,0.0170,4700],[13500,0.0110,2500],[13800,0.0050,700],[14100,0.0150,4500],[14400,0.0080,800],[14700,0.0110,2600],
  [15000,0.0050,600],[15300,0.0120,700],[15600,0.0090,2400],[15900,0.0060,700],[16200,0.0080,800],[16600,0.0100,600],
  [17000,0.0070,2500],[17400,0.0120,700],[17800,0.0090,600],[18200,0.0070,700],[18700,0.0130,800],[9600,0.0190,4700],
  [10300,0.0240,4500],[11700,0.0220,4600],[12600,0.0230,4700],[13000,0.0250,4500],[10000,-0.0020,4600],[11300,-0.0030,2700],
  [12100,0.0000,4500],[13300,-0.0010,700],[9000,-0.0060,4700],[8500,-0.0040,2500],[7200,0.0030,4600],[7600,0.0050,2600],
  [6800,0.0000,4700],[8800,0.0090,4500],
  [8000,-0.0010,700],[8500,0.0010,600],[9000,0.0020,800],[9500,0.0000,700],[10000,0.0030,600],[10500,0.0010,750],
  [11000,0.0040,700],[11500,0.0020,600],[12000,0.0050,800],[12500,0.0030,700],[13000,0.0060,600],[13500,0.0040,750],
  [14000,0.0070,700],[14500,0.0050,600],[15000,0.0080,800],[15500,0.0060,700],[16000,0.0090,600],[16500,0.0070,750],
  [17000,0.0100,700],[17500,0.0080,600],[18000,0.0050,800],[18500,0.0110,700],[19000,0.0070,600],[8800,-0.0030,2000],
  [9800,-0.0015,2500],[10800,0.0000,1800],[11800,-0.0005,2200],[12800,0.0015,2700],[13800,0.0025,2000],[14800,0.0035,1500],
  [9200,0.0045,2400],[10200,0.0055,2100],[11200,0.0065,2600],[12200,0.0075,2300],[13200,0.0100,2800],[14200,0.0105,2200],
  [15200,0.0095,1900],[16200,0.0120,2500],[17200,0.0060,2300],[16800,0.0130,900],[17800,0.0150,700],[18200,0.0200,2400],
  [17000,0.0195,600],[16300,0.0180,2600],
  [19300,0.0255,2600],[21200,0.0258,700],[20800,0.0175,700],[20500,0.0130,600],[21000,0.0110,800],[19800,0.0100,700],
  [19500,0.0060,600],[20000,0.0050,750],[21500,0.0070,700],[22000,0.0075,600],[20300,0.0155,700],[19000,0.0130,600],
  [18600,0.0090,700],[23800,0.0090,600],[24700,0.0060,700],[25300,0.0065,600],[26000,0.0150,700],[28900,0.0245,600],
  [19600,0.0355,4600],[18100,0.0805,4700],[18000,0.0220,4500],[16000,-0.0110,4600],[12300,-0.0200,4700],[11000,-0.0120,4500],
  [14000,-0.0035,2800],[15600,-0.0025,4600],[17500,0.0225,4600],[18900,0.0210,2700]
];
const lpXTicks = [0, 5000, 10000, 15000, 20000, 25000, 30000];
const lpYTicks = [-0.02, 0, 0.02, 0.04, 0.06, 0.08];

// (h) MD, coloured by LP
const mdPoints = [
  [0,-0.0010,800],[0,0.0005,1200],[0,-0.0018,600],[0.2,0.0012,1500],[0.3,-0.0004,900],
  [0.5,0.0010,11000],[0.8,-0.0012,12500],[1.0,0.0005,9500],[1.2,-0.0030,8000],[1.5,-0.0018,13000],[1.8,0.0008,11500],
  [2.0,-0.0040,9000],[2.2,-0.0008,13500],[2.5,0.0012,10500],[2.8,-0.0025,12000],[3.0,-0.0048,8500],[3.2,0.0002,13000],
  [3.5,-0.0015,9500],[3.8,0.0018,12500],[4.0,-0.0035,10000],[4.2,-0.0005,14000],[4.5,0.0028,9000],[4.8,-0.0022,12000],
  [5.0,0.0008,11000],[5.3,-0.0030,13500],[5.6,0.0015,8500],[6.0,-0.0012,12500],[6.3,0.0035,10000],[6.6,-0.0028,13000],
  [7.0,0.0022,9500],[7.3,-0.0008,12000],[7.6,0.0040,11000],[1.3,0.0015,7000],[2.4,-0.0052,6500],[3.4,0.0045,7500],
  [4.4,0.0050,6000],[5.4,-0.0038,6800],[6.4,0.0010,7200],[1.7,-0.0045,7800],[2.7,0.0020,12800],[3.7,-0.0028,13200],
  [4.7,-0.0010,8800],[5.8,0.0025,13800],[6.8,0.0000,9200],[0.6,-0.0025,10500],[1.1,-0.0040,12200],[2.1,0.0018,8200],
  [3.1,-0.0005,11800],[4.1,0.0010,12600],[5.1,-0.0018,7400],[6.1,0.0030,12900],[7.1,-0.0030,8700],[4.3,0.0045,7000],
  [3.6,0.0040,6500],
  [7.7,0.0118,7000],[8.4,0.0105,6800],[9.2,0.0100,9500],[9.9,0.0109,7200],[7.2,0.0090,7500],[8.6,0.0075,12500],
  [9.5,0.0070,11000],[7.2,0.0061,6900],[6.5,0.0044,7800],[5.3,0.0061,6600],[4.3,0.0044,7000],[4.8,0.0050,6400],
  [9.2,0.0047,10000],[10.4,0.0054,11500],[11.2,0.0031,12000],[8.5,0.0030,9800],[7.9,0.0015,13000],[9.2,0.0022,12800],
  [7.1,0.0008,11000],[11.4,0.0050,13200],[11.8,0.0040,12400],
  [32.2,0.0506,6000],[16.1,0.0428,1000],[15.5,0.0299,10000],[8.7,0.0250,1500],[9.6,0.0250,9000],[13.0,0.0179,7000],
  [19.5,0.0165,6500],[21.7,0.0155,7500],[15.7,0.0176,10500],[30.6,0.0144,13000],[25.3,0.0127,13500],[28.4,0.0127,13000],
  [20.0,0.0132,11000],[18.9,0.0111,10500],[19.6,0.0120,10000],[15.0,0.0125,11500],[15.7,0.0118,12000],[16.2,0.0112,9800],
  [14.4,0.0091,10500],[14.1,0.0075,13000],[12.9,0.0056,11000],[12.5,0.0017,13500],[12.5,0.0000,13000],[10.4,0.0017,10000],
  [63.4,-0.0066,6000],[38.6,-0.0168,9000],[37.0,-0.0336,12000],[70.6,-0.0313,13000]
];
const mdXTicks = [0, 10, 20, 30, 40, 50, 60, 70];
const mdYTicks = [-0.02, 0, 0.02, 0.04];

// (i) MND, coloured by POID
const mndPoints = [
  [300,0.0690,4700],[200,0.0655,4800],[100,0.0520,800],[100,0.0480,2800],[200,0.0465,2600],[550,0.0445,4600],
  [300,0.0400,4700],[250,0.0380,700],[0,0.0375,600],[300,0.0370,4500],[450,0.0360,4600],[150,0.0350,4800],
  [400,0.0340,3000],[250,0.0330,4700],[600,0.0320,4500],[100,0.0310,900],[350,0.0300,4600],[500,0.0290,4800],
  [200,0.0280,4400],[650,0.0275,4600],[50,0.0270,700],[400,0.0260,4700],[300,0.0250,2800],[550,0.0240,4500],
  [150,0.0230,800],[700,0.0220,4600],[350,0.0210,4800],[100,0.0200,600],[600,0.0195,4400],[250,0.0185,2700],
  [450,0.0175,4700],[750,0.0170,4500],[150,0.0160,700],[500,0.0150,4600],[300,0.0140,3200],[700,0.0130,4800],
  [100,0.0120,800],[550,0.0110,2600],[350,0.0100,4500],[800,0.0095,700],[200,0.0085,650],[600,0.0075,4700],
  [400,0.0065,800],[900,0.0060,700],[250,0.0055,4400],[700,0.0045,2900],[500,0.0035,700],[1000,0.0030,650],
  [350,0.0025,4600],[800,0.0015,800],[600,0.0005,4500],[1100,0.0000,700],[900,-0.0010,650],[1300,-0.0015,800],
  [1200,-0.0030,700],[1500,-0.0035,650],[1700,-0.0045,700],[400,-0.0005,4700],[750,0.0040,650],[500,0.0200,4700],
  [250,0.0230,4600],[650,0.0100,750],[450,0.0020,4600],[950,0.0010,700],[1050,-0.0020,2700],[850,0.0070,650],
  [1300,-0.0085,2500],
  [1800,-0.0055,700],[2100,-0.0065,650],[2400,-0.0050,700],[2700,-0.0070,600],[3000,-0.0058,700],[3300,-0.0075,650],
  [3600,-0.0062,700],[3900,-0.0068,600],[4200,-0.0055,700],[4500,-0.0072,650],[4800,-0.0060,700],[5100,-0.0078,600],
  [5400,-0.0065,700],[5700,-0.0070,650],[6000,-0.0058,700],[6300,-0.0075,600],[6600,-0.0068,700],[6900,-0.0080,650],
  [7200,-0.0062,700],[7500,-0.0075,600],[7800,-0.0068,700],[8100,-0.0082,650],[8400,-0.0065,700],[8700,-0.0075,600],
  [9000,-0.0070,700],[9300,-0.0078,650],[9600,-0.0066,700],[9900,-0.0080,600],[10200,-0.0072,700],[10500,-0.0068,650],
  [10800,-0.0078,700],[11100,-0.0070,600],[11400,-0.0075,700],[11700,-0.0068,650],[12000,-0.0080,700],[12300,-0.0072,600],
  [12600,-0.0070,700],[12900,-0.0078,650],[13200,-0.0068,700],[13500,-0.0075,600],[13800,-0.0070,700],[14100,-0.0080,650],
  [14400,-0.0072,700],[14700,-0.0068,600],[15000,-0.0076,700],[15300,-0.0070,650],[15600,-0.0074,700],[15900,-0.0068,600],
  [16200,-0.0078,700],[16500,-0.0070,650],[16800,-0.0072,700],[17100,-0.0066,600],[17400,-0.0076,700],[17700,-0.0070,650],
  [18000,-0.0073,700],[18300,-0.0067,600],[18600,-0.0075,700],[18900,-0.0069,650],[19200,-0.0072,700],[19500,-0.0066,600],
  [19800,-0.0074,700],[20100,-0.0068,650],[20400,-0.0071,700],[20700,-0.0065,600],[21000,-0.0073,700],[21300,-0.0067,650],
  [21600,-0.0070,700],[21900,-0.0064,600],[22200,-0.0072,700],[22500,-0.0066,650],[22800,-0.0069,700],[23100,-0.0063,600],
  [23400,-0.0070,700],[23700,-0.0065,650],[24000,-0.0068,700],[24300,-0.0062,600],[24600,-0.0069,700],[24900,-0.0064,650],
  [25200,-0.0067,700],[25500,-0.0061,600],[25800,-0.0068,700],[26100,-0.0063,650],[26400,-0.0066,700],[26700,-0.0060,600],
  [27000,-0.0065,700],[27300,-0.0062,650],[27600,-0.0058,700],[27900,-0.0047,600],[28200,-0.0063,700],[28500,-0.0060,650],
  [28800,-0.0064,700],
  [2200,-0.0080,700],[2800,-0.0045,650],[3500,-0.0085,700],[4100,-0.0048,600],[4700,-0.0085,700],[5300,-0.0052,650],
  [5900,-0.0088,700],[6500,-0.0055,600],[7100,-0.0090,700],[7700,-0.0058,650],[8300,-0.0092,700],[8900,-0.0060,600],
  [9500,-0.0088,700],[10100,-0.0060,650],[10700,-0.0090,700],[11300,-0.0062,600],[12500,-0.0088,700],[13700,-0.0060,650],
  [15000,-0.0086,700],[16300,-0.0062,600],[17600,-0.0083,700],[19000,-0.0060,650],[20500,-0.0080,700],[22000,-0.0058,600],
  [23500,-0.0076,700],
  [2600,-0.0090,2800],[3000,-0.0098,2500],[5000,-0.0082,2600],[8000,-0.0098,2700],[9800,-0.0100,2800],[11000,-0.0106,2500],
  [14000,-0.0100,2600],[16500,-0.0086,2700],[20000,-0.0098,2900],[24500,-0.0095,2700],[28500,-0.0085,2800],[12500,-0.0095,2500],
  [7000,-0.0160,4700],[6800,-0.0125,4600],[7300,-0.0120,4800],[6500,-0.0128,4500],[7600,-0.0115,4700],[6200,-0.0110,4600],
  [5800,-0.0102,4500],[7900,-0.0105,4700],
  [29500,-0.0062,700],[30500,-0.0063,650],[31500,-0.0061,700],[32800,-0.0065,600],[32800,-0.0084,1000],[34300,-0.0064,700],
  [35500,-0.0068,650],[36600,-0.0066,700],[37600,-0.0061,600],[38300,-0.0064,700],[39300,-0.0085,1200],[41800,-0.0066,650],
  [41800,-0.0075,700],[28000,-0.0045,700],[30000,-0.0058,650]
];
const mndXTicks = [0, 10000, 20000, 30000, 40000];
const mndYTicks = [-0.02, 0, 0.02, 0.04, 0.06];

// (j) PG, coloured by POID
const pgPoints = [
  [0,-0.0221,4700],[55,-0.0210,4600],[20,-0.0195,4800],[120,-0.0200,4500],[10,-0.0180,4700],[0,-0.0169,4600],
  [144,-0.0169,4800],[256,-0.0173,4500],[11,-0.0137,4600],[0,-0.0120,4700],[20,-0.0105,4500],[0,-0.0090,4800],
  [10,-0.0075,4600],[0,-0.0060,4700],[20,-0.0048,4500],[0,-0.0035,4800],[10,-0.0022,4600],[0,-0.0010,4700],
  [1900,0.0779,4700],[444,0.0411,4600],[1555,0.0147,4700],[133,0.0143,2600],[289,0.0131,4600],[11,0.0116,4700],
  [1744,0.0139,2600],[955,0.0082,4600],[980,0.0088,4500],
  [30,0.0020,700],[80,-0.0010,600],[150,0.0035,800],[200,0.0005,700],[260,-0.0020,650],[320,0.0030,600],[380,0.0010,750],
  [440,-0.0005,700],[500,0.0040,600],[560,0.0015,800],[620,0.0025,700],[680,0.0000,650],[740,0.0035,600],[800,0.0020,750],
  [860,-0.0010,700],[920,0.0030,600],[980,0.0012,800],[1040,0.0040,700],[1100,0.0020,650],[1160,0.0005,600],[1220,0.0030,750],
  [1280,0.0045,700],[1340,0.0018,600],[1400,0.0035,800],[1460,0.0010,700],[1520,0.0028,650],[1580,0.0042,600],
  [1640,0.0022,750],[1700,0.0030,700],[1760,0.0008,600],[1820,-0.0020,800],[1880,0.0032,700],[1940,0.0015,650],
  [2000,0.0025,600],[2060,0.0000,750],[2120,0.0035,700],[2200,0.0020,600],[2260,0.0055,800],[2330,0.0012,700],
  [2400,0.0040,650],[2480,0.0025,600],[2600,0.0060,700],[2650,0.0010,650],[2720,0.0015,700],[2800,0.0005,600],
  [40,0.0005,700],[90,0.0028,4600],[140,0.0012,700],[190,-0.0005,4500],[240,0.0040,700],[300,0.0015,2600],[360,0.0045,800],
  [420,0.0020,4700],[480,0.0030,700],[540,-0.0005,4600],[600,0.0045,700],[660,0.0020,2600],[720,0.0005,800],[780,0.0030,4500],
  [840,0.0040,700],[900,0.0015,2700],[960,0.0050,600],[1020,0.0010,700],[1080,0.0030,4600],[1150,0.0045,700],
  [1210,0.0020,2500],[1270,0.0010,700],[1330,0.0035,4600],[1390,0.0025,700],[1450,0.0050,2600],[1510,0.0040,800],
  [1570,0.0020,700],[1630,0.0045,2800],[1690,0.0005,700],[1800,0.0045,800],[1900,0.0020,700],[2150,0.0015,800],[2300,0.0030,700],
  [60,0.0010,4600],[110,0.0045,4500],[170,-0.0025,4700],[230,0.0025,4800],[290,0.0060,4600],[350,-0.0015,4500],
  [410,0.0035,3000],[470,0.0005,4700],[530,0.0055,4600],[590,-0.0010,2700],[650,0.0040,4500],[710,0.0015,4800],
  [770,0.0055,2800],[830,0.0000,4600],[890,0.0045,4700],[950,0.0010,2500],[1010,0.0025,4600],[1070,-0.0008,4500],
  [1130,0.0032,2900],[1190,0.0050,4700],[1250,0.0012,2600],[1310,0.0028,4500],[1370,0.0008,2400],[1430,0.0040,4800],
  [1490,0.0020,2700],[1550,0.0000,4600],[1610,0.0035,2300],[1680,0.0015,2600],[1750,0.0100,2600],[1850,0.0025,2500],
  [2050,0.0010,2400],[250,0.0080,4600],[300,0.0070,4700],[200,0.0065,2700],[100,0.0075,4500],[400,0.0090,4800],
  [2900,0.0015,4600],[3000,0.0020,2600],[3100,0.0040,700],[3150,0.0065,2600],[3300,0.0045,700],[3400,0.0040,800],
  [3500,0.0060,2500],[3600,0.0080,700],[3700,0.0100,2700],[3750,0.0110,2600],[3800,0.0105,4500],[3900,0.0085,700],
  [4100,0.0060,700],[4200,-0.0015,2600],[4300,0.0055,4000],[4500,0.0070,700],[4550,0.0035,2600],[4850,0.0055,700],
  [4850,0.0015,2500],[5300,0.0030,700],[5700,0.0085,700],[6400,0.0090,700],[3200,0.0040,700],[2950,0.0025,2300]
];
const pgXTicks = [0, 1000, 2000, 3000, 4000, 5000, 6000];
const pgYTicks = [-0.02, 0, 0.02, 0.04, 0.06, 0.08];

// ---------- look and layout ----------
const FONT = '"Liberation Sans", Arial, sans-serif';
const TEXT = '#4a4a4a';
const PLOT_BG = '#eaeaf2';

// blue -> purple -> red, the usual SHAP palette
const CMAP = [[0, [0, 138, 250]], [0.3, [84, 108, 242]], [0.5, [140, 74, 214]], [0.72, [205, 36, 160]], [1, [255, 0, 82]]];
function cmap(t) {
  t = Math.max(0, Math.min(1, t));
  for (let i = 1; i < CMAP.length; i++) {
    if (t <= CMAP[i][0]) {
      const [t0, c0] = CMAP[i - 1], [t1, c1] = CMAP[i];
      const k = (t - t0) / (t1 - t0);
      return 'rgb(' + c0.map((v, j) => Math.round(v + (c1[j] - v) * k)).join(',') + ')';
    }
  }
  return 'rgb(255,0,82)';
}

const panels = [
  { pts: bdPoints, feat: 'BD', cName: 'DEM', xt: bdXTicks, yt: bdYTicks, ct: demColorTicks, xd: 1, yd: 3,
    xr: [-0.049, 1.049], yr: [-0.0106, 0.0305], cr: [198, 557], col: 0, plot: [55, 10, 265, 185],
    xTitleY: 201, yTitle: [16.5, 26], bar: 278, cbText: 285, cbTitle: 302, fs: { tick: 7.3, yt: 8.8, xt: 8.5, cb: 9 }, xPad: 3 },
  { pts: bsPoints, feat: 'BS', cName: 'POID', xt: bsXTicks, yt: bsYTicks, ct: poidColorTicks, xd: 0, yd: 2,
    xr: [-21, 449], yr: [-0.0648, 0.0504], cr: [10, 4980], col: 1, plot: [365, 10, 576, 184],
    xTitleY: 201, yTitle: [330, 339.5], bar: 589, cbText: 596, cbTitle: 617, fs: { tick: 7, yt: 8.8, xt: 8.5, cb: 10 }, xPad: 3 },
  { pts: bsdPoints, feat: 'BSD', cName: 'LP', xt: bsdXTicks, yt: bsdYTicks, ct: lpColorTicks, xd: 0, yd: 2,
    xr: [-1000, 25870], yr: [-0.0214, 0.0291], cr: [0, 14800], col: 0, plot: [53, 237, 261, 414],
    xTitleY: 428, yTitle: [16, 28.5], bar: 276, cbText: 282, cbTitle: 308, fs: { tick: 7.5, yt: 11, xt: 11, cb: 11 }, xPad: 0 },
  { pts: demPoints, feat: 'DEM', cName: 'POID', xt: demXTicks, yt: demYTicks, ct: poidColorTicks, xd: 0, yd: 3,
    xr: [-48, 1030], yr: [-0.01574, 0.01914], cr: [10, 4980], col: 1, plot: [364, 238, 575, 413],
    xTitleY: 428, yTitle: [326, 337.5], bar: 588, cbText: 595, cbTitle: 615, fs: { tick: 7.3, yt: 10.5, xt: 10, cb: 10.5 }, xPad: 1 },
  { pts: edPoints, feat: 'ED', cName: 'MND', xt: edXTicks, yt: edYTicks, ct: mndColorTicks, xd: 0, yd: 3,
    xr: [-8500, 190400], yr: [-0.0059, 0.03606], cr: [400, 22670], col: 0, plot: [55, 493, 265, 668],
    xTitleY: 684, yTitle: [16, 25.5], bar: 278, cbText: 284, cbTitle: 309, fs: { tick: 7.3, yt: 9.3, xt: 9, cb: 9.5 }, xPad: 1.5 },
  { pts: fdPoints, feat: 'FD', cName: 'POID', xt: fdXTicks, yt: fdYTicks, ct: poidColorTicks, xd: 0, yd: 2,
    xr: [-423, 8760], yr: [-0.0330, 0.0979], cr: [10, 4980], col: 1, plot: [366, 491, 577, 667],
    xTitleY: 685, yTitle: [331.5, 340.5], bar: 591, cbText: 597, cbTitle: 618, fs: { tick: 7.3, yt: 9.5, xt: 9, cb: 10 }, xPad: 2 },
  { pts: lpPoints, feat: 'LP', cName: 'POID', xt: lpXTicks, yt: lpYTicks, ct: poidColorTicks, xd: 0, yd: 2,
    xr: [-1470, 31300], yr: [-0.0264, 0.0858], cr: [3, 5005], col: 0, plot: [53, 720, 263, 895],
    xTitleY: 911, yTitle: [16, 25.5], bar: 277.7, cbText: 283, cbTitle: 303, fs: { tick: 7.3, yt: 9.5, xt: 9.5, cb: 10 }, xPad: 2 },
  { pts: mdPoints, feat: 'MD', cName: 'LP', xt: mdXTicks, yt: mdYTicks, ct: lpColorTicks, xd: 0, yd: 2,
    xr: [-3, 74], yr: [-0.038, 0.0547], cr: [0, 14760], col: 1, plot: [364, 720, 573, 895],
    xTitleY: 911, yTitle: [328, 338], bar: 587.7, cbText: 593, cbTitle: 618, fs: { tick: 7.3, yt: 9.5, xt: 9.5, cb: 10 }, xPad: 2 },
  { pts: mndPoints, feat: 'MND', cName: 'POID', xt: mndXTicks, yt: mndYTicks, ct: poidColorTicks, xd: 0, yd: 2,
    xr: [-2011, 43400], yr: [-0.0214, 0.0734], cr: [10, 4980], col: 0, plot: [52, 948, 262, 1125],
    xTitleY: 1142, yTitle: [16, 25.5], bar: 276.7, cbText: 283, cbTitle: 303, fs: { tick: 7.3, yt: 9.5, xt: 9.5, cb: 10 }, xPad: 1 },
  { pts: pgPoints, feat: 'PG', cName: 'POID', xt: pgXTicks, yt: pgYTicks, ct: poidColorTicks, xd: 0, yd: 2,
    xr: [-213, 6733], yr: [-0.0263, 0.0825], cr: [10, 4980], col: 1, plot: [359, 948, 568, 1122],
    xTitleY: 1140, yTitle: [322.7, 331.5], bar: 581.7, cbText: 587, cbTitle: 608, fs: { tick: 7.3, yt: 9.5, xt: 9.5, cb: 10 }, xPad: 2 }
];

function fmt(v, d) { return (Math.abs(v) < 1e-12 ? 0 : v).toFixed(d); }
function noPad(s) { s.paddingTop = 0; s.paddingBottom = 0; s.paddingLeft = 0; s.paddingRight = 0; }

// plot-area background plus the colour bar with its label
const dependenceDecor = {
  id: 'dependenceDecor',
  beforeDraw(chart, args, o) {
    const a = chart.chartArea, ctx = chart.ctx;
    ctx.save();
    ctx.fillStyle = PLOT_BG;
    ctx.fillRect(a.left, a.top, a.right - a.left, a.bottom - a.top);
    ctx.restore();
  },
  afterDraw(chart, args, o) {
    const a = chart.chartArea, ctx = chart.ctx;
    const g = ctx.createLinearGradient(0, a.bottom, 0, a.top);
    for (let i = 0; i <= 20; i++) g.addColorStop(i / 20, cmap(i / 20));
    ctx.save();
    ctx.fillStyle = g;
    ctx.fillRect(o.barX, a.top, 3.5, a.bottom - a.top);
    ctx.translate(o.titleX, (a.top + a.bottom) / 2);
    ctx.rotate(-Math.PI / 2);
    ctx.fillStyle = TEXT;
    ctx.font = o.size + 'px ' + FONT;
    ctx.textAlign = 'center';
    ctx.textBaseline = 'middle';
    ctx.fillText(o.label, 0, 0);
    ctx.restore();
  }
};

panels.forEach(p => {
  const [l, t, r, b] = p.plot;
  const left = p.col ? 310 : 0;
  const W = 310;
  const top = t - 8;
  const bottom = p.xTitleY + 8;
  const H = bottom - top;
  const cv = document.createElement('canvas');
  cv.width = W; cv.height = H;
  cv.style.left = left + 'px'; cv.style.top = top + 'px';
  cv.style.width = W + 'px'; cv.style.height = H + 'px';
  document.body.appendChild(cv);

  const tickFont = { family: FONT, size: p.fs.tick, lineHeight: 1.2 };
  const ySp = p.yTitle[1] - p.yTitle[0];
  const xLh = p.fs.xt * 1.2;
  const span = p.cr[1] - p.cr[0];

  new Chart(cv, {
    type: 'scatter',
    data: {
      datasets: [{
        data: p.pts.map(q => ({ x: q[0], y: q[1] })),
        pointBackgroundColor: p.pts.map(q => cmap((q[2] - p.cr[0]) / span)),
        pointBorderWidth: 0,
        pointRadius: 1.5,
        pointHoverRadius: 1.5
      }]
    },
    options: {
      responsive: false,
      animation: false,
      events: [],
      layout: { padding: { top: t - top, left: 0, right: 0, bottom: 0 } },
      plugins: {
        legend: { display: false },
        tooltip: { enabled: false },
        dependenceDecor: { barX: p.bar - left, titleX: p.cbTitle - left, label: p.cName, size: p.fs.cb }
      },
      scales: {
        x: {
          type: 'linear', position: 'bottom', min: p.xr[0], max: p.xr[1],
          afterBuildTicks: s => { s.ticks = p.xt.map(v => ({ value: v })); },
          afterFit: s => { s.height = bottom - b; noPad(s); },
          grid: { color: '#ffffff', lineWidth: 1, drawTicks: false },
          border: { display: false },
          ticks: { padding: p.xPad, font: tickFont, color: TEXT, maxRotation: 0, minRotation: 0, autoSkip: false,
                   callback: v => fmt(v, p.xd) },
          title: { display: true, text: p.feat, color: TEXT, font: { family: FONT, size: p.fs.xt, lineHeight: 1.2 },
                   padding: { top: 0, bottom: bottom - p.xTitleY - xLh / 2 } }
        },
        y: {
          type: 'linear', position: 'left', min: p.yr[0], max: p.yr[1],
          afterBuildTicks: s => { s.ticks = p.yt.map(v => ({ value: v })); },
          afterFit: s => { s.width = l - left; noPad(s); },
          grid: { color: '#ffffff', lineWidth: 1, drawTicks: false },
          border: { display: false },
          ticks: { padding: 3, font: tickFont, color: TEXT, autoSkip: false, callback: v => fmt(v, p.yd) },
          title: { display: true, text: ['SHAP value for', p.feat], color: TEXT,
                   font: { family: FONT, size: p.fs.yt, lineHeight: ySp / p.fs.yt },
                   padding: { top: p.yTitle[0] - left - ySp / 2, bottom: 0 } }
        },
        cb: {
          type: 'linear', position: 'right', min: p.cr[0], max: p.cr[1],
          afterBuildTicks: s => { s.ticks = p.ct.map(v => ({ value: v })); },
          afterFit: s => { s.width = left + W - r; noPad(s); },
          grid: { display: false, drawTicks: false },
          border: { display: false },
          ticks: { padding: p.cbText - r, font: tickFont, color: TEXT, autoSkip: false, callback: v => String(v) }
        }
      }
    },
    plugins: [dependenceDecor]
  });
});
</script>
</body>
</html>
